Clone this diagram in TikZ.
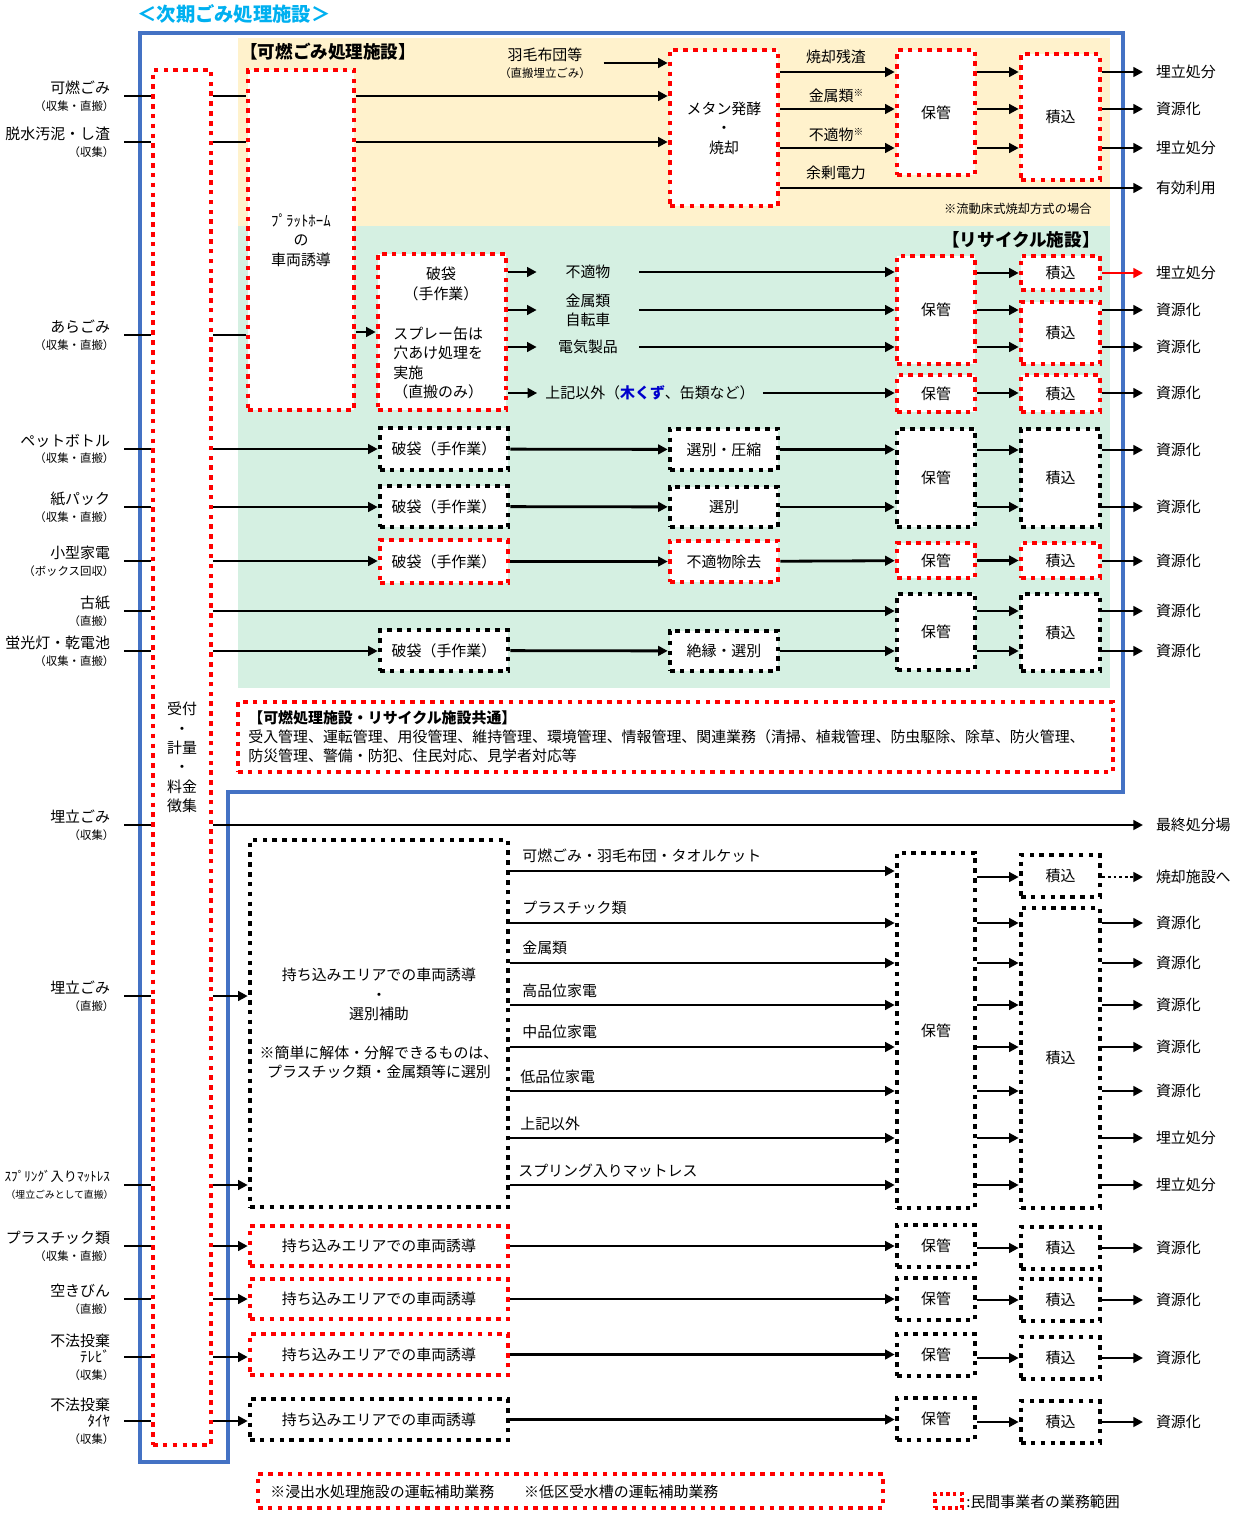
\documentclass[tikz,border=0pt]{standalone}
\usepackage{fontspec}
\setmainfont{Noto Sans CJK JP}
\usetikzlibrary{arrows.meta,fit,positioning}
\definecolor{frameblue}{HTML}{4472C4}
\definecolor{titleblue}{HTML}{00B0F0}
\definecolor{bgyel}{HTML}{FFF2CC}
\definecolor{bggrn}{HTML}{D5F0E2}
\definecolor{kiblue}{HTML}{0000CC}
\newcommand{\fmain}{\fontsize{8.5}{11}\selectfont}
\newcommand{\fsub}{\fontsize{6.5}{7.5}\selectfont}
\newcommand{\kome}{\raisebox{3pt}{\fontsize{5.5}{6}\selectfont ※}}
\newcommand{\sublab}[1]{{\fsub #1\kern-2.5pt}}

\begin{document}
\begin{tikzpicture}[x=0.02cm,y=-0.02cm,>={Triangle[length=5.5pt,width=5.5pt]},
  ln/.style={line width=1.6pt},
  arr/.style={line width=1.6pt,->},
  rbox/.style={draw=red,line width=2.6pt,dash pattern=on 2.6pt off 3pt,fill=white,inner sep=0pt},
  kbox/.style={rbox,draw=black},
  lbl/.style={font=\fmain,align=center,inner sep=0pt},
  inlab/.style={anchor=east,outer xsep=0.28cm,inner sep=0pt,align=right,font=\fmain},
  outlab/.style={anchor=west,outer xsep=0.26cm,inner sep=0pt,font=\fmain},
  txt/.style={inner sep=0pt,font=\fmain}]
\useasboundingbox (0,0) rectangle (1247,1515);
% backgrounds and frame
\fill[bgyel] (238,38) rectangle (1110,226);
\fill[bggrn] (238,226) rectangle (1110,688);
\draw[frameblue,line width=2.4pt] (140,33) -- (1123,33) -- (1123,792) -- (228,792) -- (228,1462) -- (140,1462) -- cycle;
\node[anchor=west,inner sep=0pt,text=titleblue,font=\fontsize{11}{13}\selectfont\bfseries] (ttl) at (137,14) {＜次期ごみ処理施設＞};
\node[anchor=west,inner sep=0pt,font=\fontsize{10}{12}\selectfont\bfseries] (kanenttl) at (240,52) {【可燃ごみ処理施設】};
\node[anchor=east,inner sep=0pt,font=\fontsize{10}{12}\selectfont\bfseries] (recyttl) at (1100,240) {【リサイクル施設】};
\node[txt,anchor=east,font=\fontsize{7}{8}\selectfont] (ryudo) at (1092,209) {※流動床式焼却方式の場合};

% boxes
\node[rbox,fit={(153,70) (211,1445)},label={[lbl]center:{受付\\・\\計量\\・\\料金\\徴集}}] (rec) {};
\node[rbox,fit={(248,70) (354,410)},label={[lbl]center:{ﾌﾟﾗｯﾄﾎｰﾑ\\の\\車両誘導}}] (plat) {};
\node[rbox,fit={(670,50) (778,206)},label={[lbl]center:{メタン発酵\\・\\焼却}}] (meth) {};
\node[rbox,fit={(897,50) (975,175)},label={[lbl]center:保管}] (hokA) {};
\node[rbox,fit={(1021,54) (1100,180)},label={[lbl]center:積込}] (tsuA) {};
\node[rbox,fit={(378,254) (506,410)}] (haA) {};
\node[txt,align=center] (haAt) at (441,284) {破袋\\（手作業）};
\node[txt,anchor=west,align=left] (haAs) at (393,363) {スプレー缶は\\穴あけ処理を\\実施\\（直搬のみ）};
\node[rbox,fit={(897,256) (975,364)},label={[lbl]center:保管}] (hokB) {};
\node[rbox,fit={(897,375) (975,412)},label={[lbl]center:保管}] (hokC) {};
\node[rbox,fit={(1021,256) (1100,290)},label={[lbl]center:積込}] (tsuB) {};
\node[rbox,fit={(1021,302) (1100,364)},label={[lbl]center:積込}] (tsuC) {};
\node[rbox,fit={(1021,375) (1100,412)},label={[lbl]center:積込}] (tsuD) {};
\node[kbox,fit={(380,428) (508,470)},label={[lbl]center:破袋（手作業）}] (haB) {};
\node[kbox,fit={(670,429) (778,470)},label={[lbl]center:選別・圧縮}] (sen1) {};
\node[kbox,fit={(380,486) (508,527)},label={[lbl]center:破袋（手作業）}] (haC) {};
\node[kbox,fit={(670,487) (778,527)},label={[lbl]center:選別}] (sen2) {};
\node[rbox,fit={(380,540) (508,583)},label={[lbl]center:破袋（手作業）}] (haD) {};
\node[rbox,fit={(670,541) (778,582)},label={[lbl]center:不適物除去}] (sen3) {};
\node[kbox,fit={(380,630) (508,671)},label={[lbl]center:破袋（手作業）}] (haE) {};
\node[kbox,fit={(670,631) (778,671)},label={[lbl]center:絶縁・選別}] (sen4) {};
\node[kbox,fit={(897,429) (975,527)},label={[lbl]center:保管}] (hokD) {};
\node[kbox,fit={(1021,429) (1100,527)},label={[lbl]center:積込}] (tsuE) {};
\node[rbox,fit={(897,543) (975,578)},label={[lbl]center:保管}] (hokE) {};
\node[rbox,fit={(1021,543) (1100,578)},label={[lbl]center:積込}] (tsuF) {};
\node[kbox,fit={(897,594) (975,670)},label={[lbl]center:保管}] (hokF) {};
\node[kbox,fit={(1021,594) (1100,671)},label={[lbl]center:積込}] (tsuG) {};
\node[rbox,fit={(238,702) (1113,772)}] (common) {};
\node[txt,anchor=north west,align=left] (commont) at (248,710) {{\bfseries 【可燃処理施設・リサイクル施設共通】}\\受入管理、運転管理、用役管理、維持管理、環境管理、情報管理、関連業務（清掃、植栽管理、防虫駆除、除草、防火管理、\\防災管理、警備・防犯、住民対応、見学者対応等};
\node[kbox,fit={(250,840) (508,1207)},label={[lbl]center:{持ち込みエリアでの車両誘導\\・\\選別補助\\[11pt]※簡単に解体・分解できるものは、\\プラスチック類・金属類等に選別}}] (bigk) {};
\node[kbox,fit={(897,853) (975,1208)},label={[lbl]center:保管}] (hokG) {};
\node[kbox,fit={(1021,855) (1100,897)},label={[lbl]center:積込}] (tsuH) {};
\node[kbox,fit={(1021,908) (1100,1208)},label={[lbl]center:積込}] (tsuI) {};
\node[rbox,fit={(250,1226) (508,1266)},label={[lbl]center:持ち込みエリアでの車両誘導}] (mochiA) {};
\node[rbox,fit={(250,1279) (508,1319)},label={[lbl]center:持ち込みエリアでの車両誘導}] (mochiB) {};
\node[rbox,fit={(250,1334) (508,1375)},label={[lbl]center:持ち込みエリアでの車両誘導}] (mochiC) {};
\node[kbox,fit={(250,1399) (508,1440)},label={[lbl]center:持ち込みエリアでの車両誘導}] (mochiD) {};
\node[kbox,fit={(897,1225) (975,1267)},label={[lbl]center:保管}] (hokH) {};
\node[kbox,fit={(1021,1227) (1100,1269)},label={[lbl]center:積込}] (tsuJ) {};
\node[kbox,fit={(897,1278) (975,1320)},label={[lbl]center:保管}] (hokI) {};
\node[kbox,fit={(1021,1279) (1100,1321)},label={[lbl]center:積込}] (tsuK) {};
\node[kbox,fit={(897,1334) (975,1376)},label={[lbl]center:保管}] (hokJ) {};
\node[kbox,fit={(1021,1337) (1100,1379)},label={[lbl]center:積込}] (tsuL) {};
\node[kbox,fit={(897,1398) (975,1440)},label={[lbl]center:保管}] (hokK) {};
\node[kbox,fit={(1021,1401) (1100,1443)},label={[lbl]center:積込}] (tsuM) {};
\node[rbox,fit={(258,1474) (883,1508)}] (note) {};
\node[txt,anchor=west] (notet) at (270,1492) {※浸出水処理施設の運転補助業務\hspace{2em}※低区受水槽の運転補助業務};
\node[rbox,line width=1.8pt,dash pattern=on 1.8pt off 2pt,fit={(935,1494) (962,1508)}] (leg) {};
\node[txt,anchor=west] (legt) at (966,1502) {:民間事業者の業務範囲};

% input labels
\node[inlab] (kanen) at (124,96) {可燃ごみ\\[-1.5pt]\sublab{（収集・直搬）}};
\node[inlab] (dassui) at (124,142) {脱水汚泥・し渣\\[-1.5pt]\sublab{（収集）}};
\node[inlab] (ara) at (124,335) {あらごみ\\[-1.5pt]\sublab{（収集・直搬）}};
\node[inlab] (pet) at (124,449) {ペットボトル\\[-1.5pt]\sublab{（収集・直搬）}};
\node[inlab] (pack) at (124,507) {紙パック\\[-1.5pt]\sublab{（収集・直搬）}};
\node[inlab] (kaden) at (124,561) {小型家電\\[-1.5pt]\sublab{（ボックス回収）}};
\node[inlab] (koshi) at (124,611) {古紙\\[-1.5pt]\sublab{（直搬）}};
\node[inlab] (kei) at (124,651) {蛍光灯・乾電池\\[-1.5pt]\sublab{（収集・直搬）}};
\node[inlab] (umeA) at (124,825) {埋立ごみ\\[-1.5pt]\sublab{（収集）}};
\node[inlab] (umeB) at (124,996) {埋立ごみ\\[-1.5pt]\sublab{（直搬）}};
\node[inlab] (mat) at (124,1185) {{\fontsize{7.5}{9}\selectfont ｽﾌﾟﾘﾝｸﾞ入りﾏｯﾄﾚｽ}\\[-1.5pt]{\fontsize{5.6}{7}\selectfont （埋立ごみとして直搬）\kern-2pt}};
\node[inlab] (pla) at (124,1246) {プラスチック類\\[-1.5pt]\sublab{（収集・直搬）}};
\node[inlab] (bin) at (124,1299) {空きびん\\[-1.5pt]\sublab{（直搬）}};
\node[inlab] (tv) at (124,1357) {不法投棄\\[-1.5pt]ﾃﾚﾋﾞ\\[-1.5pt]\sublab{（収集）}};
\node[inlab] (tire) at (124,1421) {不法投棄\\[-1.5pt]ﾀｲﾔ\\[-1.5pt]\sublab{（収集）}};

% output labels
\node[outlab] (oA1) at (1143,72) {埋立処分};
\node[outlab] (oA2) at (1143,109) {資源化};
\node[outlab] (oA3) at (1143,148) {埋立処分};
\node[outlab] (oA4) at (1143,188) {有効利用};
\node[outlab] (oB1) at (1143,273) {埋立処分};
\node[outlab] (oB2) at (1143,310) {資源化};
\node[outlab] (oB3) at (1143,347) {資源化};
\node[outlab] (oB4) at (1143,393) {資源化};
\node[outlab] (oC1) at (1143,450) {資源化};
\node[outlab] (oC2) at (1143,507) {資源化};
\node[outlab] (oC3) at (1143,561) {資源化};
\node[outlab] (oC4) at (1143,611) {資源化};
\node[outlab] (oC5) at (1143,651) {資源化};
\node[outlab] (saishu) at (1143,825) {最終処分場};
\node[outlab] (oD0) at (1143,877) {焼却施設へ};
\node[outlab] (oD1) at (1143,923) {資源化};
\node[outlab] (oD2) at (1143,963) {資源化};
\node[outlab] (oD3) at (1143,1005) {資源化};
\node[outlab] (oD4) at (1143,1047) {資源化};
\node[outlab] (oD5) at (1143,1091) {資源化};
\node[outlab] (oD6) at (1143,1138) {埋立処分};
\node[outlab] (oD7) at (1143,1185) {埋立処分};
\node[outlab] (oE1) at (1143,1248) {資源化};
\node[outlab] (oE2) at (1143,1300) {資源化};
\node[outlab] (oE3) at (1143,1358) {資源化};
\node[outlab] (oE4) at (1143,1422) {資源化};

% middle labels
\node[txt,align=center,outer xsep=0.26cm] (umou) at (545,63) {羽毛布団等\\[-1.5pt]{\fsub（直搬埋立ごみ）}};
\node[txt] (zansa) at (836,57) {焼却残渣};
\node[txt] (kinA) at (836,96) {金属類\kome};
\node[txt] (futA) at (836,135) {不適物\kome};
\node[txt] (yojo) at (836,173) {余剰電力};
\node[txt,minimum width=2.04cm] (futeki) at (588,272) {不適物};
\node[txt,minimum width=2.04cm,align=center] (kinzoku) at (588,310) {金属類\\自転車};
\node[txt,minimum width=2.04cm] (denki) at (588,347) {電気製品};
\node[txt,minimum width=4.5cm] (igai) at (650,393) {上記以外（{\color{kiblue}\bfseries 木くず}、缶類など）};
\coordinate (q0) at (0,871);
\node[txt,anchor=west] (lq0) at (522,856) {可燃ごみ・羽毛布団・タオルケット};
\node[txt,anchor=west] (lq1) at (522,908) {プラスチック類};
\node[txt,anchor=west] (lq2) at (522,948) {金属類};
\node[txt,anchor=west] (lq3) at (522,991) {高品位家電};
\node[txt,anchor=west] (lq4) at (522,1032) {中品位家電};
\node[txt,anchor=west] (lq5) at (520,1077) {低品位家電};
\node[txt,anchor=west] (lq6) at (520,1124) {上記以外};
\node[txt,anchor=west] (lq7) at (518,1171) {スプリング入りマットレス};

% left stubs
\draw[ln] (kanen) -- (rec.west |- kanen);
\draw[ln] (dassui) -- (rec.west |- dassui);
\draw[ln] (ara) -- (rec.west |- ara);
\draw[ln] (pet) -- (rec.west |- pet);
\draw[ln] (pack) -- (rec.west |- pack);
\draw[ln] (kaden) -- (rec.west |- kaden);
\draw[ln] (koshi) -- (rec.west |- koshi);
\draw[ln] (kei) -- (rec.west |- kei);
\draw[ln] (umeA) -- (rec.west |- umeA);
\draw[ln] (umeB) -- (rec.west |- umeB);
\draw[ln] (mat) -- (rec.west |- mat);
\draw[ln] (pla) -- (rec.west |- pla);
\draw[ln] (bin) -- (rec.west |- bin);
\draw[ln] (tv) -- (rec.west |- tv);
\draw[ln] (tire) -- (rec.west |- tire);

% combustible plant
\draw[ln] (rec.east |- kanen) -- (plat.west |- kanen);
\draw[ln] (rec.east |- dassui) -- (plat.west |- dassui);
\draw[arr] (plat.east |- kanen) -- (meth.west |- kanen);
\draw[arr] (plat.east |- dassui) -- (meth.west |- dassui);
\draw[arr] (umou.east) -- (meth.west |- umou.east);
\draw[arr] (meth.east |- oA1) -- (hokA.west |- oA1);
\draw[arr] (meth.east |- oA2) -- (hokA.west |- oA2);
\draw[arr] (meth.east |- oA3) -- (hokA.west |- oA3);
\draw[arr] (meth.east |- oA4) -- (oA4);
\draw[arr] (hokA.east |- oA1) -- (tsuA.west |- oA1);
\draw[arr] (hokA.east |- oA2) -- (tsuA.west |- oA2);
\draw[arr] (hokA.east |- oA3) -- (tsuA.west |- oA3);
\draw[arr] (tsuA.east |- oA1) -- (oA1);
\draw[arr] (tsuA.east |- oA2) -- (oA2);
\draw[arr] (tsuA.east |- oA3) -- (oA3);

% recycle plant
\draw[ln] (rec.east |- ara) -- (plat.west |- ara);
\draw[arr] (plat.east |- 0,332) -- (haA.west |- 0,332);
\draw[arr] (haA.east |- futeki) -- (futeki.west);
\draw[arr] (haA.east |- kinzoku) -- (kinzoku.west);
\draw[arr] (haA.east |- denki) -- (denki.west);
\draw[arr] (haA.east |- igai) -- (igai.west);
\draw[arr] (futeki.east) -- (hokB.west |- futeki);
\draw[arr] (kinzoku.east) -- (hokB.west |- kinzoku);
\draw[arr] (denki.east) -- (hokB.west |- denki);
\draw[arr] (igai.east) -- (hokC.west |- igai);
\draw[arr] (hokB.east |- oB1) -- (tsuB.west |- oB1);
\draw[arr] (hokB.east |- oB2) -- (tsuC.west |- oB2);
\draw[arr] (hokB.east |- oB3) -- (tsuC.west |- oB3);
\draw[arr] (hokC.east |- oB4) -- (tsuD.west |- oB4);
\draw[arr,red] (tsuB.east |- oB1) -- (oB1);
\draw[arr] (tsuC.east |- oB2) -- (oB2);
\draw[arr] (tsuC.east |- oB3) -- (oB3);
\draw[arr] (tsuD.east |- oB4) -- (oB4);
\draw[arr] (rec.east |- pet) -- (haB.west |- pet);
\draw[arr] (haB) -- (sen1);
\draw[arr] (sen1) -- (hokD.west |- sen1);
\draw[arr] (rec.east |- pack) -- (haC.west |- pack);
\draw[arr] (haC) -- (sen2);
\draw[arr] (sen2) -- (hokD.west |- sen2);
\draw[arr] (hokD.east |- oC1) -- (tsuE.west |- oC1);
\draw[arr] (hokD.east |- oC2) -- (tsuE.west |- oC2);
\draw[arr] (tsuE.east |- oC1) -- (oC1);
\draw[arr] (tsuE.east |- oC2) -- (oC2);
\draw[arr] (rec.east |- kaden) -- (haD.west |- kaden);
\draw[arr] (haD) -- (sen3);
\draw[arr] (sen3) -- (hokE);
\draw[arr] (hokE) -- (tsuF);
\draw[arr] (tsuF.east |- oC3) -- (oC3);
\draw[arr] (rec.east |- koshi) -- (hokF.west |- koshi);
\draw[arr] (rec.east |- kei) -- (haE.west |- kei);
\draw[arr] (haE) -- (sen4);
\draw[arr] (sen4) -- (hokF.west |- sen4);
\draw[arr] (hokF.east |- oC4) -- (tsuG.west |- oC4);
\draw[arr] (hokF.east |- oC5) -- (tsuG.west |- oC5);
\draw[arr] (tsuG.east |- oC4) -- (oC4);
\draw[arr] (tsuG.east |- oC5) -- (oC5);

% landfill waste
\draw[arr] (rec.east |- umeA) -- (saishu);
\draw[arr] (rec.east |- umeB) -- (bigk.west |- umeB);
\draw[arr] (rec.east |- mat) -- (bigk.west |- mat);
\draw[arr] (bigk.east |- q0) -- (hokG.west |- q0);
\draw[arr] (bigk.east |- oD1) -- (hokG.west |- oD1);
\draw[arr] (bigk.east |- oD2) -- (hokG.west |- oD2);
\draw[arr] (bigk.east |- oD3) -- (hokG.west |- oD3);
\draw[arr] (bigk.east |- oD4) -- (hokG.west |- oD4);
\draw[arr] (bigk.east |- oD5) -- (hokG.west |- oD5);
\draw[arr] (bigk.east |- oD6) -- (hokG.west |- oD6);
\draw[arr] (bigk.east |- oD7) -- (hokG.west |- oD7);
\draw[arr] (hokG.east |- oD0) -- (tsuH.west |- oD0);
\draw[arr] (hokG.east |- oD1) -- (tsuI.west |- oD1);
\draw[arr] (hokG.east |- oD2) -- (tsuI.west |- oD2);
\draw[arr] (hokG.east |- oD3) -- (tsuI.west |- oD3);
\draw[arr] (hokG.east |- oD4) -- (tsuI.west |- oD4);
\draw[arr] (hokG.east |- oD5) -- (tsuI.west |- oD5);
\draw[arr] (hokG.east |- oD6) -- (tsuI.west |- oD6);
\draw[arr] (hokG.east |- oD7) -- (tsuI.west |- oD7);
\draw[arr,dash pattern=on 1.6pt off 1.6pt] (tsuH.east |- oD0) -- (oD0);
\draw[arr] (tsuI.east |- oD1) -- (oD1);
\draw[arr] (tsuI.east |- oD2) -- (oD2);
\draw[arr] (tsuI.east |- oD3) -- (oD3);
\draw[arr] (tsuI.east |- oD4) -- (oD4);
\draw[arr] (tsuI.east |- oD5) -- (oD5);
\draw[arr] (tsuI.east |- oD6) -- (oD6);
\draw[arr] (tsuI.east |- oD7) -- (oD7);

% direct lines
\draw[arr] (rec.east |- pla) -- (mochiA.west |- pla);
\draw[arr] (rec.east |- bin) -- (mochiB.west |- bin);
\draw[arr] (rec.east |- tv) -- (mochiC.west |- tv);
\draw[arr] (rec.east |- tire) -- (mochiD.west |- tire);
\draw[arr] (mochiA) -- (hokH.west |- mochiA);
\draw[arr] (mochiB) -- (hokI.west |- mochiB);
\draw[arr] (mochiC) -- (hokJ.west |- mochiC);
\draw[arr] (mochiD) -- (hokK.west |- mochiD);
\draw[arr] (hokH.east |- tsuJ) -- (tsuJ);
\draw[arr] (hokI.east |- tsuK) -- (tsuK);
\draw[arr] (hokJ.east |- tsuL) -- (tsuL);
\draw[arr] (hokK.east |- tsuM) -- (tsuM);
\draw[arr] (tsuJ.east |- oE1) -- (oE1);
\draw[arr] (tsuK.east |- oE2) -- (oE2);
\draw[arr] (tsuL.east |- oE3) -- (oE3);
\draw[arr] (tsuM.east |- oE4) -- (oE4);
\end{tikzpicture}
\end{document}
